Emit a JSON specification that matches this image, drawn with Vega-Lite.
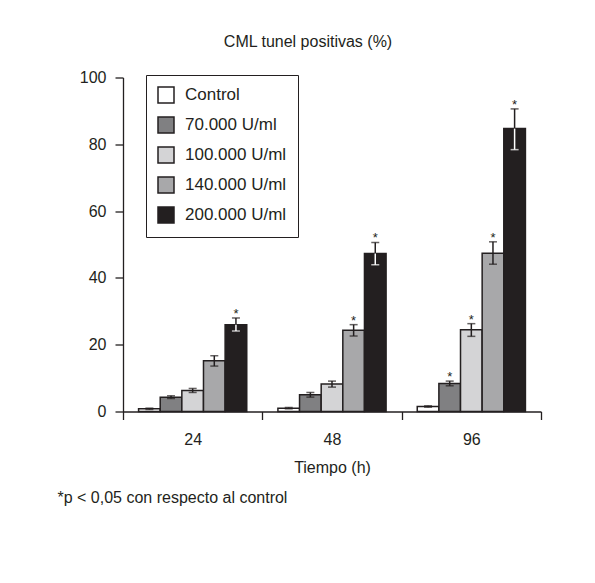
{
  "$schema": "https://vega.github.io/schema/vega-lite/v6.json",
  "width": 418,
  "height": 334,
  "autosize": {"type": "none"},
  "padding": {"left": 123, "top": 77.5, "right": 54, "bottom": 171.5},
  "background": "white",
  "title": {"text": "CML tunel positivas (%)", "fontSize": 16, "fontWeight": "normal", "font": "Liberation Sans", "color": "#231f20", "anchor": "middle", "dx": -24, "offset": 20},
  "data": {"values": [
    {"time": "24", "group": "Control", "value": 0.8, "lo": 0.6, "hi": 1.0, "sig": false},
    {"time": "24", "group": "70.000 U/ml", "value": 4.3, "lo": 3.9, "hi": 4.7, "sig": false},
    {"time": "24", "group": "100.000 U/ml", "value": 6.3, "lo": 5.7, "hi": 6.9, "sig": false},
    {"time": "24", "group": "140.000 U/ml", "value": 15.2, "lo": 13.6, "hi": 16.7, "sig": false},
    {"time": "24", "group": "200.000 U/ml", "value": 26.0, "lo": 24.1, "hi": 28.0, "sig": true},
    {"time": "48", "group": "Control", "value": 1.0, "lo": 0.8, "hi": 1.2, "sig": false},
    {"time": "48", "group": "70.000 U/ml", "value": 5.0, "lo": 4.3, "hi": 5.7, "sig": false},
    {"time": "48", "group": "100.000 U/ml", "value": 8.2, "lo": 7.3, "hi": 9.1, "sig": false},
    {"time": "48", "group": "140.000 U/ml", "value": 24.3, "lo": 22.6, "hi": 26.0, "sig": true},
    {"time": "48", "group": "200.000 U/ml", "value": 47.3, "lo": 43.9, "hi": 50.6, "sig": true},
    {"time": "96", "group": "Control", "value": 1.5, "lo": 1.3, "hi": 1.7, "sig": false},
    {"time": "96", "group": "70.000 U/ml", "value": 8.4, "lo": 7.7, "hi": 9.1, "sig": true},
    {"time": "96", "group": "100.000 U/ml", "value": 24.5, "lo": 22.5, "hi": 26.3, "sig": true},
    {"time": "96", "group": "140.000 U/ml", "value": 47.4, "lo": 44.1, "hi": 50.8, "sig": true},
    {"time": "96", "group": "200.000 U/ml", "value": 84.7, "lo": 78.4, "hi": 90.6, "sig": true}
  ]},
  "resolve": {"axis": {"x": "independent"}},
  "layer": [
    {
      "mark": {"type": "bar", "stroke": "#231f20", "strokeWidth": 1.5},
      "encoding": {
        "x": {"field": "time", "type": "nominal", "sort": ["24", "48", "96"],
              "scale": {"paddingInner": 0, "paddingOuter": 0},
              "axis": {"title": "Tiempo (h)", "labelAngle": 0, "tickBand": "extent", "labelPadding": 12, "titlePadding": 12}},
        "xOffset": {"field": "group", "type": "nominal",
                    "sort": ["Control", "70.000 U/ml", "100.000 U/ml", "140.000 U/ml", "200.000 U/ml"],
                    "scale": {"paddingInner": 0, "paddingOuter": 0.72}},
        "y": {"field": "value", "type": "quantitative",
              "scale": {"domain": [0, 100], "nice": false},
              "axis": {"values": [0, 20, 40, 60, 80, 100], "title": null, "labelPadding": 9}},
        "color": {"field": "group", "type": "nominal",
                  "sort": ["Control", "70.000 U/ml", "100.000 U/ml", "140.000 U/ml", "200.000 U/ml"],
                  "scale": {"domain": ["Control", "70.000 U/ml", "100.000 U/ml", "140.000 U/ml", "200.000 U/ml"],
                            "range": ["#ffffff", "#808082", "#d4d4d6", "#a8a8aa", "#231f20"]},
                  "legend": {"title": null, "orient": "none", "legendX": 23, "legendY": -2.5}}
      }
    },
    {
      "mark": {"type": "rule", "strokeWidth": 1.5, "color": "#231f20"},
      "encoding": {
        "x": {"field": "time", "type": "nominal", "sort": ["24", "48", "96"], "axis": null},
        "xOffset": {"field": "group", "type": "nominal", "sort": ["Control", "70.000 U/ml", "100.000 U/ml", "140.000 U/ml", "200.000 U/ml"]},
        "y": {"field": "value", "type": "quantitative"},
        "y2": {"field": "hi"}
      }
    },
    {
      "mark": {"type": "rule", "strokeWidth": 1.5},
      "encoding": {
        "x": {"field": "time", "type": "nominal", "sort": ["24", "48", "96"], "axis": null},
        "xOffset": {"field": "group", "type": "nominal", "sort": ["Control", "70.000 U/ml", "100.000 U/ml", "140.000 U/ml", "200.000 U/ml"]},
        "y": {"field": "lo", "type": "quantitative"},
        "y2": {"field": "value"},
        "color": {"condition": {"test": "datum.group === '200.000 U/ml'", "value": "#ffffff"}, "value": "#231f20"}
      }
    },
    {
      "mark": {"type": "tick", "size": 8, "thickness": 1.5, "color": "#231f20"},
      "encoding": {
        "x": {"field": "time", "type": "nominal", "sort": ["24", "48", "96"], "axis": null},
        "xOffset": {"field": "group", "type": "nominal", "sort": ["Control", "70.000 U/ml", "100.000 U/ml", "140.000 U/ml", "200.000 U/ml"]},
        "y": {"field": "hi", "type": "quantitative"}
      }
    },
    {
      "mark": {"type": "tick", "size": 8, "thickness": 1.5},
      "encoding": {
        "x": {"field": "time", "type": "nominal", "sort": ["24", "48", "96"], "axis": null},
        "xOffset": {"field": "group", "type": "nominal", "sort": ["Control", "70.000 U/ml", "100.000 U/ml", "140.000 U/ml", "200.000 U/ml"]},
        "y": {"field": "lo", "type": "quantitative"},
        "color": {"condition": {"test": "datum.group === '200.000 U/ml'", "value": "#ffffff"}, "value": "#231f20"}
      }
    },
    {
      "transform": [{"filter": "datum.sig"}],
      "mark": {"type": "text", "text": "*", "fontSize": 13, "baseline": "alphabetic", "align": "center", "color": "#231f20", "dy": 0},
      "encoding": {
        "x": {"field": "time", "type": "nominal", "sort": ["24", "48", "96"],
              "axis": {"orient": "bottom", "domain": false, "ticks": false, "labels": false,
                       "title": "*p < 0,05 con respecto al control", "titleAnchor": "start", "titleAlign": "left",
                       "titleX": -66, "titlePadding": 78}},
        "xOffset": {"field": "group", "type": "nominal", "sort": ["Control", "70.000 U/ml", "100.000 U/ml", "140.000 U/ml", "200.000 U/ml"]},
        "y": {"field": "hi", "type": "quantitative"}
      }
    }
  ],
  "config": {
    "font": "Liberation Sans",
    "view": {"stroke": null},
    "axis": {"labelFont": "Liberation Sans", "titleFont": "Liberation Sans", "labelColor": "#231f20", "titleColor": "#231f20",
             "domainColor": "#231f20", "tickColor": "#231f20", "labelFontSize": 16, "titleFontSize": 16,
             "titleFontWeight": "normal", "grid": false, "domainWidth": 1.3, "tickWidth": 1.3, "tickSize": 8},
    "legend": {"labelFont": "Liberation Sans", "labelFontSize": 17, "labelColor": "#231f20", "symbolType": "square",
               "symbolSize": 256, "symbolStrokeColor": "#231f20", "symbolStrokeWidth": 1.5, "symbolOpacity": 1,
               "strokeColor": "#231f20", "padding": 11, "rowPadding": 8, "labelOffset": 10}
  }
}
